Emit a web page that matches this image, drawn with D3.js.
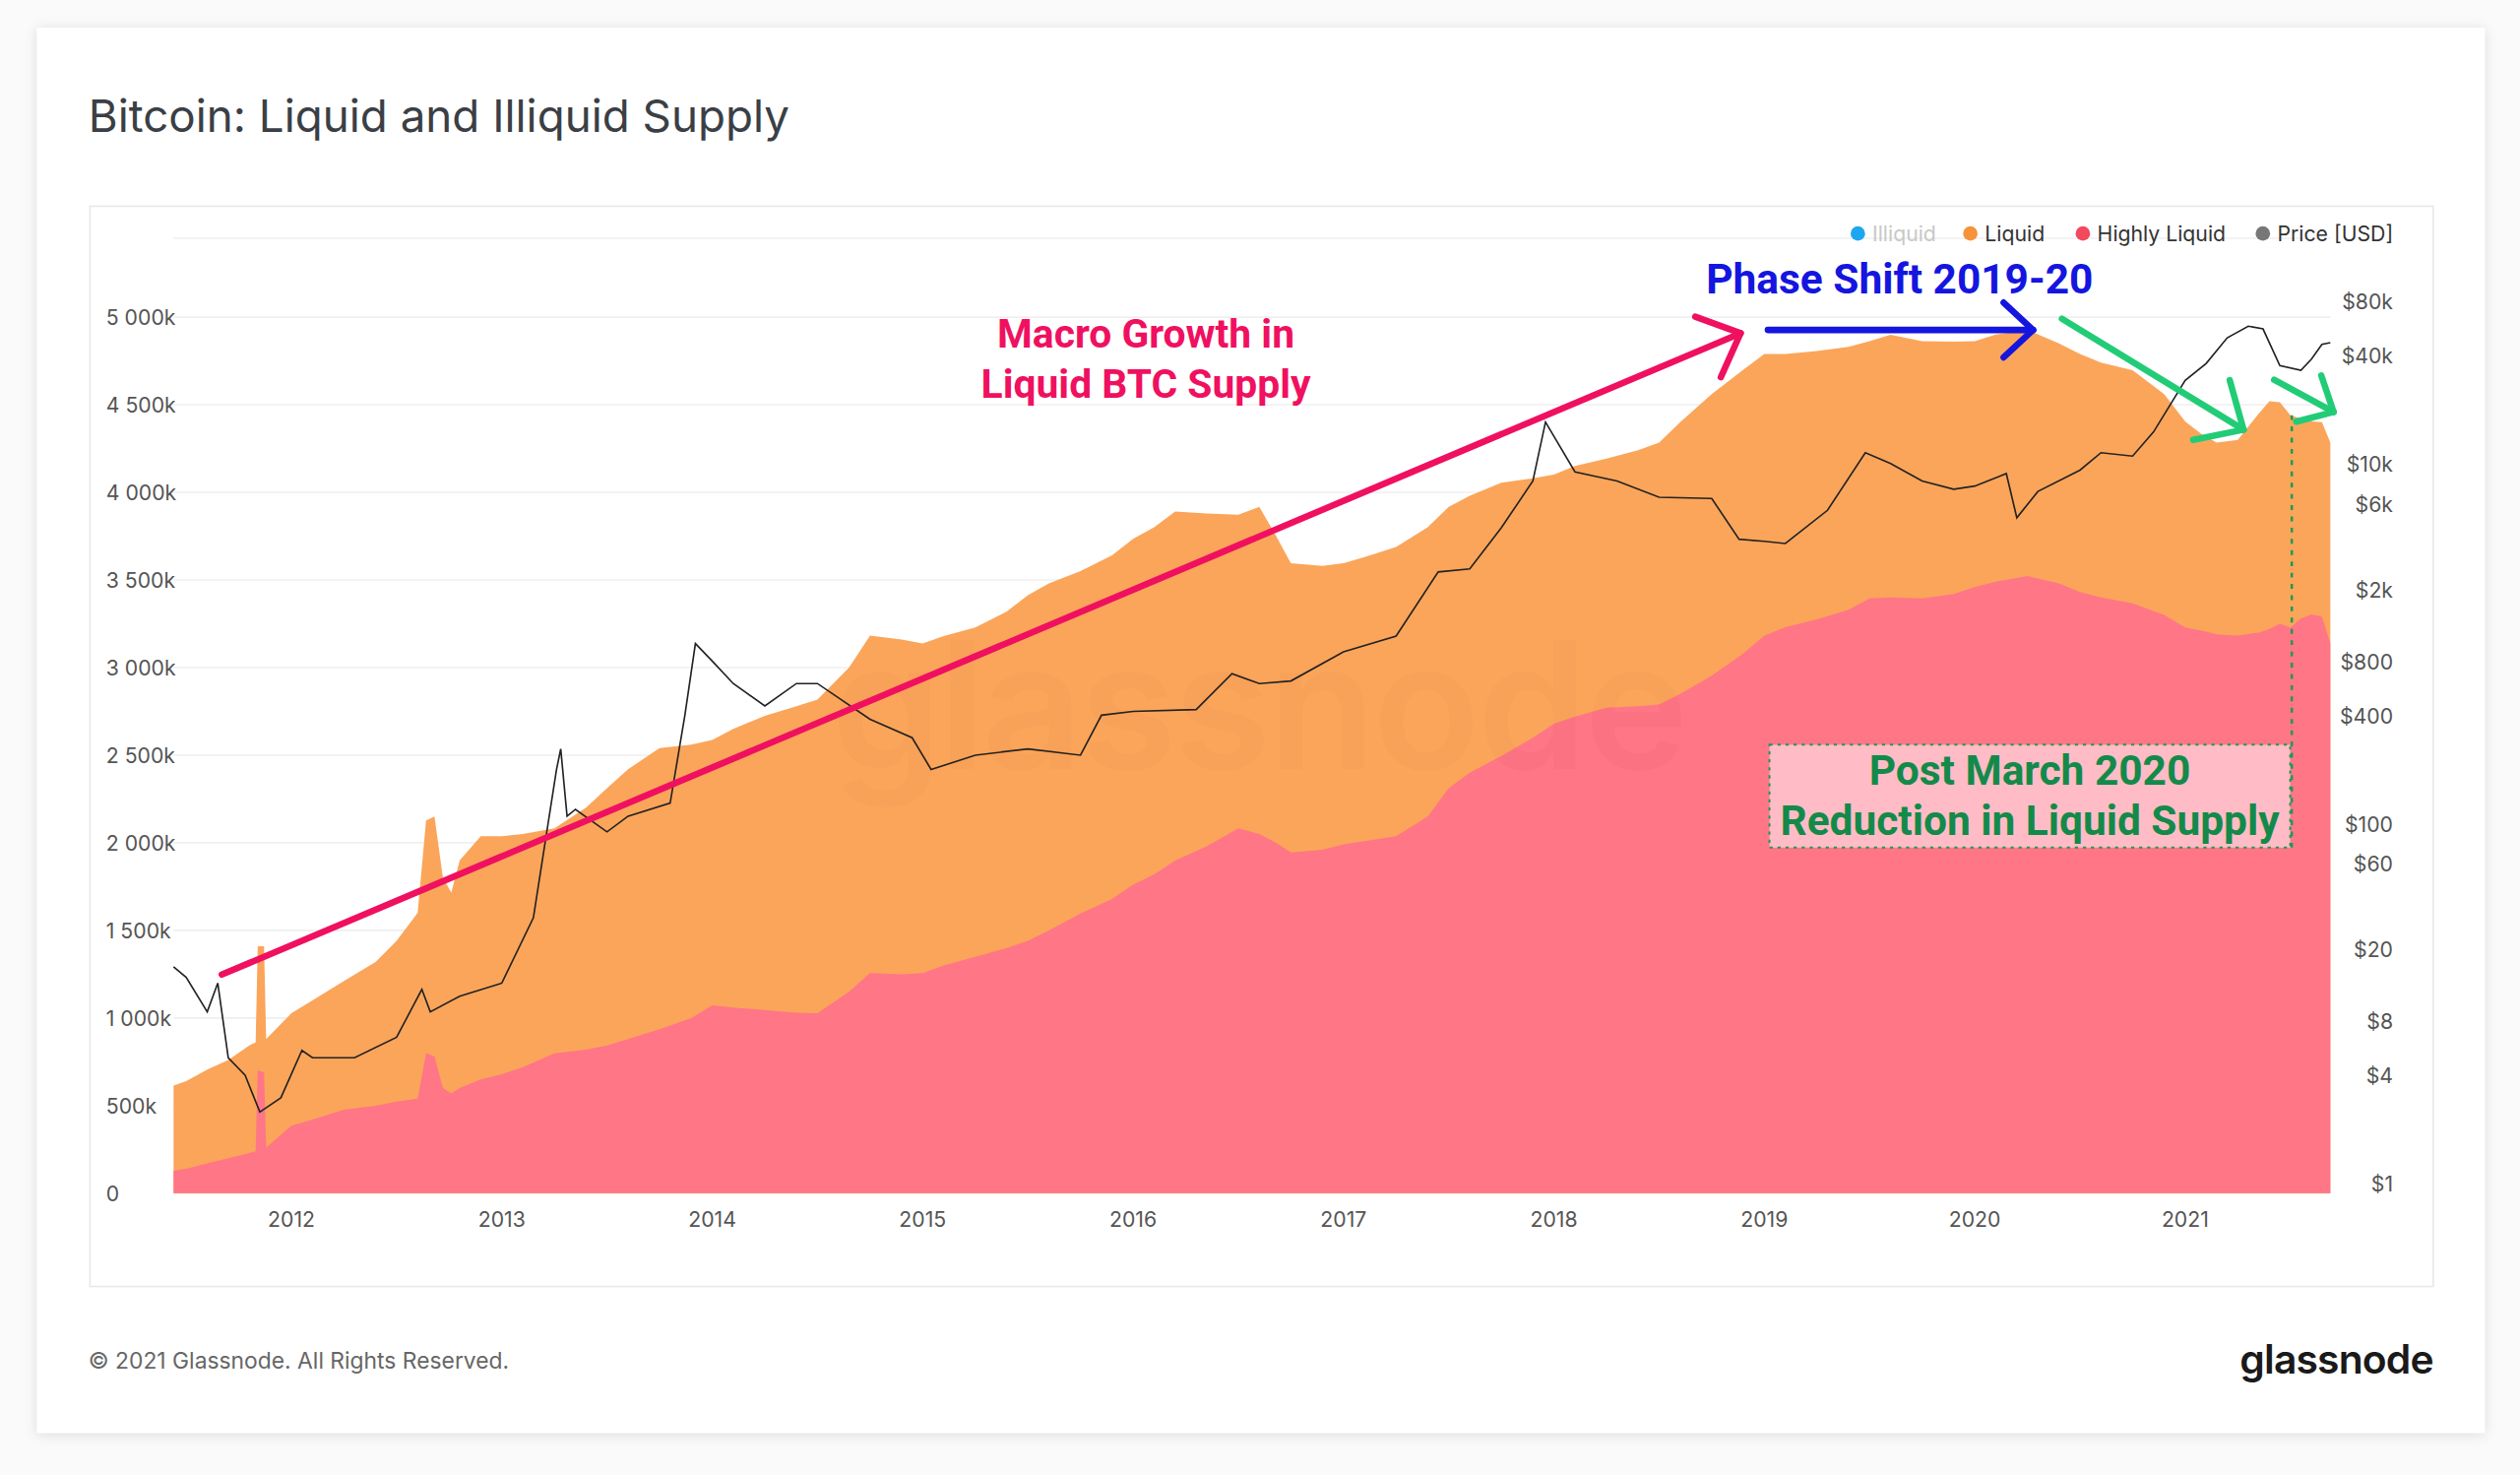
<!DOCTYPE html>
<html><head><meta charset="utf-8">
<script src="https://cdn.jsdelivr.net/npm/d3@7"></script>
<style>html,body{margin:0;padding:0;background:#fafafa;}svg{display:block;}</style>
</head><body>
<script>
// ---- data (k BTC, decimal years) ----
const supplyYears = [2011.44,2011.5,2011.6,2011.7,2011.8,2011.83,2011.84,2011.87,2011.88,2012.0,2012.1,2012.25,2012.4,2012.5,2012.6,2012.64,2012.68,2012.72,2012.76,2012.8,2012.9,2013.0,2013.1,2013.25,2013.4,2013.5,2013.6,2013.75,2013.9,2014.0,2014.1,2014.25,2014.4,2014.5,2014.65,2014.75,2014.9,2015.0,2015.1,2015.25,2015.4,2015.5,2015.6,2015.75,2015.9,2016.0,2016.1,2016.2,2016.35,2016.5,2016.6,2016.68,2016.75,2016.9,2017.0,2017.1,2017.25,2017.4,2017.5,2017.6,2017.75,2017.9,2018.0,2018.1,2018.25,2018.4,2018.5,2018.6,2018.75,2018.9,2019.0,2019.1,2019.25,2019.4,2019.5,2019.6,2019.75,2019.9,2020.0,2020.1,2020.25,2020.4,2020.5,2020.6,2020.75,2020.9,2021.0,2021.08,2021.15,2021.25,2021.35,2021.4,2021.45,2021.5,2021.55,2021.6,2021.65,2021.69];
const highlyLiquid = [128,140,170,200,230,240,700,690,260,385,420,477,500,523,540,800,780,600,569,600,650,679,720,798,820,844,880,936,1000,1073,1060,1046,1030,1027,1150,1257,1250,1257,1300,1349,1400,1440,1500,1596,1680,1761,1820,1899,1980,2083,2050,2000,1945,1960,1991,2010,2037,2150,2312,2400,2495,2600,2679,2720,2771,2780,2789,2850,2954,3080,3183,3230,3275,3330,3394,3400,3394,3420,3459,3490,3523,3480,3431,3400,3367,3300,3229,3210,3190,3183,3200,3220,3250,3229,3280,3303,3290,3138];
const liquidTotal = [615,640,706,760,844,860,1410,1410,880,1027,1100,1211,1320,1440,1600,2128,2150,1800,1716,1900,2037,2037,2050,2083,2200,2312,2420,2541,2560,2587,2650,2725,2780,2817,3000,3183,3160,3138,3180,3229,3320,3413,3480,3550,3640,3734,3800,3890,3880,3872,3917,3750,3596,3580,3596,3630,3688,3800,3917,3980,4055,4080,4101,4150,4193,4240,4284,4400,4560,4700,4789,4790,4807,4830,4862,4899,4862,4860,4862,4900,4927,4850,4789,4740,4697,4560,4404,4330,4284,4300,4450,4520,4514,4440,4420,4404,4400,4284];
const priceYears = [2011.44,2011.5,2011.6,2011.65,2011.7,2011.78,2011.85,2011.95,2012.05,2012.1,2012.3,2012.5,2012.62,2012.66,2012.8,2013.0,2013.15,2013.26,2013.28,2013.31,2013.35,2013.5,2013.6,2013.8,2013.87,2013.92,2014.0,2014.1,2014.25,2014.4,2014.5,2014.75,2014.95,2015.04,2015.25,2015.5,2015.75,2015.85,2016.0,2016.3,2016.47,2016.6,2016.75,2017.0,2017.25,2017.45,2017.6,2017.75,2017.9,2017.96,2018.1,2018.3,2018.5,2018.75,2018.88,2019.0,2019.1,2019.3,2019.48,2019.6,2019.75,2019.9,2020.0,2020.15,2020.2,2020.3,2020.5,2020.6,2020.75,2020.85,2021.0,2021.1,2021.2,2021.3,2021.37,2021.45,2021.55,2021.6,2021.65,2021.69];
const priceUSD = [16,14,9,13,5,4,2.5,3,5.5,5,5,6.5,12,9,11,13,30,200,260,110,120,90,110,130,400,1000,800,600,450,600,600,380,300,200,240,260,240,400,420,430,680,600,620,900,1100,2500,2600,4400,8000,17000,9000,8000,6500,6400,3800,3700,3600,5500,11500,10000,8000,7200,7500,8800,5000,7000,9200,11500,11000,15000,29000,36000,50000,58000,56000,35000,33000,38000,46000,47000];
const yTicks = [0,500,1000,1500,2000,2500,3000,3500,4000,4500,5000];
const priceTicks = [1,4,8,20,60,100,400,800,2000,6000,10000,40000,80000];
const priceTickLabels = ["$1","$4","$8","$20","$60","$100","$400","$800","$2k","$6k","$10k","$40k","$80k"];
const yearTicks = [2012,2013,2014,2015,2016,2017,2018,2019,2020,2021];
const legendItems = [["Illiquid","#1fa6f0","#c8c8c8"],["Liquid","#f7923a","#333"],["Highly Liquid","#f2495c","#333"],["Price [USD]","#777","#333"]];

const W=1568,H=917;
const svg=d3.select("body").append("svg").attr("width",2560).attr("height",1498).attr("viewBox",`0 0 ${W} ${H}`).style("font-family","Inter, 'Noto Sans', sans-serif");
const defs=svg.append("defs");
const f=defs.append("filter").attr("id","sh").attr("x","-5%").attr("y","-5%").attr("width","110%").attr("height","110%");
f.append("feDropShadow").attr("dx",0).attr("dy",1).attr("stdDeviation",4).attr("flood-color","#000").attr("flood-opacity",0.12);
svg.append("rect").attr("x",23).attr("y",17).attr("width",1523).attr("height",874).attr("fill","#fff").attr("filter","url(#sh)");
svg.append("text").attr("x",55).attr("y",82).attr("font-size",28).attr("fill","#3b3f45").text("Bitcoin: Liquid and Illiquid Supply");
svg.append("rect").attr("x",56).attr("y",128).attr("width",1458).attr("height",672).attr("fill","none").attr("stroke","#e8e8e8");

const x=d3.scaleLinear().domain([2011.44,2021.69]).range([108,1450]);
const y=d3.scaleLinear().domain([0,5000]).range([742,197]);
const yp=d3.scaleLog().domain([1,80000]).range([736,187]);

// grid
svg.append("g").selectAll("line").data(yTicks.concat([5450])).join("line")
 .attr("x1",108).attr("x2",1450).attr("y1",d=>y(d)).attr("y2",d=>y(d)).attr("stroke","#efefef");
svg.append("g").selectAll("text").data(yTicks).join("text").attr("x",66).attr("y",d=>y(d)+5)
 .attr("font-size",13).attr("fill","#555").text(d=>d===0?"0":d3.format(",")(d).replace(/,/g," ")+"k");

const idx=d3.range(supplyYears.length);
svg.append("path").datum(idx).attr("fill","#fba55a")
 .attr("d",d3.area().x(i=>x(supplyYears[i])).y0(y(0)).y1(i=>y(liquidTotal[i])));
svg.append("path").datum(idx).attr("fill","#ff7686")
 .attr("d",d3.area().x(i=>x(supplyYears[i])).y0(y(0)).y1(i=>y(highlyLiquid[i])));
// watermark (faint)
svg.append("text").attr("x",783).attr("y",478).attr("text-anchor","middle").attr("font-size",110).attr("font-weight",600)
 .attr("fill","#b04030").attr("opacity",0.035).attr("letter-spacing",-2).text("glassnode");

const pidx=d3.range(priceYears.length);
svg.append("path").datum(pidx).attr("fill","none").attr("stroke","#222").attr("stroke-width",1)
 .attr("d",d3.line().x(i=>x(priceYears[i])).y(i=>yp(priceUSD[i])));

// x axis labels
svg.append("g").selectAll("text").data(yearTicks).join("text").attr("x",d=>x(d)).attr("y",763)
 .attr("text-anchor","middle").attr("font-size",13).attr("fill","#555").text(d=>d);
// right axis
svg.append("g").selectAll("text").data(priceTicks).join("text").attr("x",1489).attr("y",d=>yp(d)+5)
 .attr("text-anchor","end").attr("font-size",13).attr("fill","#555").text((d,i)=>priceTickLabels[i]);

// legend
let lx=1152;
const lg=svg.append("g");
const lw=[70,70,112,90];
legendItems.forEach((it,i)=>{
  lg.append("circle").attr("cx",lx+4).attr("cy",145).attr("r",4.5).attr("fill",it[1]);
  lg.append("text").attr("x",lx+13).attr("y",150).attr("font-size",13).attr("fill",it[2]).text(it[0]);
  lx+=lw[i];
});

// annotations
function arrow(x1,y1,x2,y2,col,w,hl){
  const g=svg.append("g").attr("stroke",col).attr("stroke-width",w).attr("fill","none").attr("stroke-linecap","round");
  g.append("line").attr("x1",x1).attr("y1",y1).attr("x2",x2).attr("y2",y2);
  const a=Math.atan2(y2-y1,x2-x1);
  [0.75,-0.75].forEach(s=>{
    g.append("line").attr("x1",x2).attr("y1",y2).attr("x2",x2-hl*Math.cos(a+s)).attr("y2",y2-hl*Math.sin(a+s));
  });
}
arrow(138,606,1083,207,"#f01060",4,30);
arrow(1100,205,1265,205,"#1515e0",4,25);
arrow(1283,198,1396,267,"#22cc77",4,32);
arrow(1415,236,1452,256,"#22cc77",4,24);
const ft="Roboto, 'Noto Sans', sans-serif";
svg.append("text").attr("x",713).attr("y",216).attr("text-anchor","middle").attr("font-family",ft).attr("font-weight",700).attr("font-size",25).attr("fill","#f01060").text("Macro Growth in");
svg.append("text").attr("x",713).attr("y",247).attr("text-anchor","middle").attr("font-family",ft).attr("font-weight",700).attr("font-size",25).attr("fill","#f01060").text("Liquid BTC Supply");
svg.append("text").attr("x",1182).attr("y",182).attr("text-anchor","middle").attr("font-family",ft).attr("font-weight",700).attr("font-size",26).attr("fill","#1515e0").text("Phase Shift 2019-20");

svg.append("rect").attr("x",1101).attr("y",463).attr("width",324).attr("height",64).attr("fill","#ffbcc6")
 .attr("stroke","#1a9a55").attr("stroke-dasharray","2,3").attr("stroke-width",1.2);
svg.append("line").attr("x1",1426).attr("x2",1426).attr("y1",258).attr("y2",527).attr("stroke","#1a9a55").attr("stroke-width",1.5).attr("stroke-dasharray","3,4");
svg.append("text").attr("x",1263).attr("y",488).attr("text-anchor","middle").attr("font-family",ft).attr("font-weight",700).attr("font-size",26).attr("fill","#138a4a").text("Post March 2020");
svg.append("text").attr("x",1263).attr("y",519).attr("text-anchor","middle").attr("font-family",ft).attr("font-weight",700).attr("font-size",26).attr("fill","#138a4a").text("Reduction in Liquid Supply");

// footer
svg.append("text").attr("x",55).attr("y",851).attr("font-size",14).attr("fill","#666").text("© 2021 Glassnode. All Rights Reserved.");
svg.append("text").attr("x",1514).attr("y",854).attr("text-anchor","end").attr("font-size",25).attr("font-weight",600).attr("fill","#1a1a1a").attr("letter-spacing",-0.5).text("glassnode");
</script>
</body></html>
